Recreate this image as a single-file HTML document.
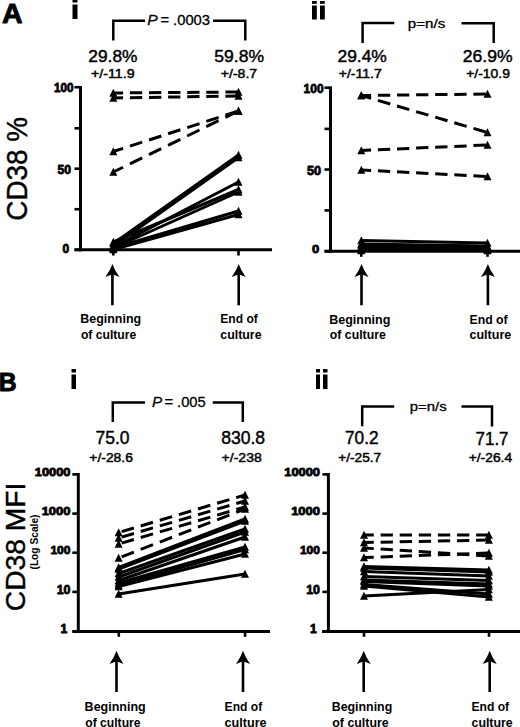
<!DOCTYPE html>
<html><head><meta charset="utf-8"><style>
html,body{margin:0;padding:0;background:#fff;}
body{width:520px;height:727px;overflow:hidden;}
svg{display:block;}
text{font-family:'Liberation Sans', sans-serif;fill:#000;}
</style></head><body>
<svg width="520" height="727" viewBox="0 0 520 727">
<rect width="520" height="727" fill="#fff"/>
<text transform="translate(2.04,23.05) scale(1.014,1)" font-size="28.12" font-weight="bold" font-style="normal" stroke="#000" stroke-width="0.9" stroke-linejoin="round">A</text>
<text transform="translate(-1.16,390.55) scale(0.944,1)" font-size="26.23" font-weight="bold" font-style="normal" stroke="#000" stroke-width="0.9" stroke-linejoin="round">B</text>
<rect x="72.50" y="-1.00" width="5.00" height="3.50"/>
<rect x="72.50" y="4.50" width="5.00" height="14.50"/>
<rect x="312.00" y="1.00" width="4.80" height="2.80"/>
<rect x="312.00" y="5.50" width="4.80" height="14.00"/>
<rect x="320.00" y="1.00" width="4.80" height="2.80"/>
<rect x="320.00" y="5.50" width="4.80" height="14.00"/>
<rect x="71.50" y="369.00" width="4.50" height="3.50"/>
<rect x="71.50" y="374.50" width="4.50" height="14.50"/>
<rect x="316.00" y="369.00" width="4.00" height="3.50"/>
<rect x="316.00" y="374.50" width="4.00" height="14.50"/>
<rect x="323.00" y="369.00" width="4.50" height="3.50"/>
<rect x="323.00" y="374.50" width="4.50" height="14.50"/>
<path d="M113.3,40.5V20.7H145" fill="none" stroke="#000" stroke-width="2.5"/>
<path d="M213,20.7H245.3V40.5" fill="none" stroke="#000" stroke-width="2.5"/>
<path d="M362.6,43V23H394.3" fill="none" stroke="#000" stroke-width="2.5"/>
<path d="M461.5,23.2H493.7V43" fill="none" stroke="#000" stroke-width="2.5"/>
<path d="M112.8,422V402.4H145" fill="none" stroke="#000" stroke-width="2.5"/>
<path d="M212.7,402.4H242.8V422" fill="none" stroke="#000" stroke-width="2.5"/>
<path d="M362.2,426.3V406.5H394.2" fill="none" stroke="#000" stroke-width="2.5"/>
<path d="M461.5,406.5H492V426.5" fill="none" stroke="#000" stroke-width="2.5"/>
<text transform="translate(147.28,24.55) scale(1.043,1)" font-size="15.07" font-weight="normal" font-style="italic" stroke="#000" stroke-width="0.3" stroke-linejoin="round">P</text>
<text transform="translate(160.41,24.90) scale(0.989,1)" font-size="14.93" font-weight="normal" font-style="normal" stroke="#000" stroke-width="0.3" stroke-linejoin="round">= .0003</text>
<text transform="translate(151.99,407.35) scale(1.001,1)" font-size="15.22" font-weight="normal" font-style="italic" stroke="#000" stroke-width="0.3" stroke-linejoin="round">P</text>
<text transform="translate(164.42,407.40) scale(0.975,1)" font-size="15.07" font-weight="normal" font-style="normal" stroke="#000" stroke-width="0.3" stroke-linejoin="round">= .005</text>
<text transform="translate(407.87,28.03) scale(1.261,1)" font-size="11.98" font-weight="normal" font-style="normal" stroke="#000" stroke-width="0.3" stroke-linejoin="round">p=n/s</text>
<text transform="translate(409.78,411.49) scale(1.222,1)" font-size="12.19" font-weight="normal" font-style="normal" stroke="#000" stroke-width="0.3" stroke-linejoin="round">p=n/s</text>
<text transform="translate(88.36,61.50) scale(1.004,1)" font-size="17.25" font-weight="normal" font-style="normal" stroke="#000" stroke-width="0.45" stroke-linejoin="round">29.8%</text>
<text transform="translate(91.01,78.35) scale(1.155,1)" font-size="12.31" font-weight="normal" font-style="normal" stroke="#000" stroke-width="0.45" stroke-linejoin="round">+/-11.9</text>
<text transform="translate(214.32,61.50) scale(1.017,1)" font-size="17.25" font-weight="normal" font-style="normal" stroke="#000" stroke-width="0.45" stroke-linejoin="round">59.8%</text>
<text transform="translate(220.82,78.35) scale(1.142,1)" font-size="12.31" font-weight="normal" font-style="normal" stroke="#000" stroke-width="0.45" stroke-linejoin="round">+/-8.7</text>
<text transform="translate(337.45,61.50) scale(1.011,1)" font-size="17.25" font-weight="normal" font-style="normal" stroke="#000" stroke-width="0.45" stroke-linejoin="round">29.4%</text>
<text transform="translate(338.72,78.35) scale(1.141,1)" font-size="12.31" font-weight="normal" font-style="normal" stroke="#000" stroke-width="0.45" stroke-linejoin="round">+/-11.7</text>
<text transform="translate(462.85,61.50) scale(1.017,1)" font-size="17.25" font-weight="normal" font-style="normal" stroke="#000" stroke-width="0.45" stroke-linejoin="round">26.9%</text>
<text transform="translate(466.23,78.35) scale(1.132,1)" font-size="12.31" font-weight="normal" font-style="normal" stroke="#000" stroke-width="0.45" stroke-linejoin="round">+/-10.9</text>
<text transform="translate(95.55,444.39) scale(0.964,1)" font-size="18.10" font-weight="normal" font-style="normal" stroke="#000" stroke-width="0.45" stroke-linejoin="round">75.0</text>
<text transform="translate(89.33,461.75) scale(1.139,1)" font-size="12.18" font-weight="normal" font-style="normal" stroke="#000" stroke-width="0.45" stroke-linejoin="round">+/-28.6</text>
<text transform="translate(221.13,444.39) scale(0.971,1)" font-size="18.10" font-weight="normal" font-style="normal" stroke="#000" stroke-width="0.45" stroke-linejoin="round">830.8</text>
<text transform="translate(221.62,461.75) scale(1.152,1)" font-size="12.18" font-weight="normal" font-style="normal" stroke="#000" stroke-width="0.45" stroke-linejoin="round">+/-238</text>
<text transform="translate(344.96,444.39) scale(0.954,1)" font-size="18.10" font-weight="normal" font-style="normal" stroke="#000" stroke-width="0.45" stroke-linejoin="round">70.2</text>
<text transform="translate(338.24,461.65) scale(1.138,1)" font-size="12.04" font-weight="normal" font-style="normal" stroke="#000" stroke-width="0.45" stroke-linejoin="round">+/-25.7</text>
<text transform="translate(475.58,444.57) scale(0.909,1)" font-size="18.62" font-weight="normal" font-style="normal" stroke="#000" stroke-width="0.45" stroke-linejoin="round">71.7</text>
<text transform="translate(468.73,461.65) scale(1.147,1)" font-size="12.04" font-weight="normal" font-style="normal" stroke="#000" stroke-width="0.45" stroke-linejoin="round">+/-26.4</text>
<text transform="translate(26.50,220.70) rotate(-90) scale(0.939,1)" font-size="29.72" font-weight="normal" stroke="#000" stroke-width="0.4" stroke-linejoin="round">CD38 %</text>
<text transform="translate(25.02,611.21) rotate(-90) scale(0.997,1)" font-size="28.31" font-weight="normal" stroke="#000" stroke-width="0.4" stroke-linejoin="round">CD38 MFI</text>
<text transform="translate(37.84,569.51) rotate(-90) scale(0.932,1)" font-size="10.96" font-weight="bold">(Log Scale)</text>
<text transform="translate(53.94,92.28) scale(0.982,1)" font-size="11.97" font-weight="bold" font-style="normal" stroke="#000" stroke-width="0.8" stroke-linejoin="round">100</text>
<text transform="translate(57.53,174.48) scale(0.997,1)" font-size="12.25" font-weight="bold" font-style="normal" stroke="#000" stroke-width="0.8" stroke-linejoin="round">50</text>
<text transform="translate(62.42,252.98) scale(0.979,1)" font-size="12.25" font-weight="bold" font-style="normal" stroke="#000" stroke-width="0.8" stroke-linejoin="round">0</text>
<text transform="translate(303.62,92.98) scale(0.975,1)" font-size="12.25" font-weight="bold" font-style="normal" stroke="#000" stroke-width="0.8" stroke-linejoin="round">100</text>
<text transform="translate(307.02,175.47) scale(0.980,1)" font-size="12.96" font-weight="bold" font-style="normal" stroke="#000" stroke-width="0.8" stroke-linejoin="round">50</text>
<text transform="translate(311.88,253.48) scale(1.130,1)" font-size="11.55" font-weight="bold" font-style="normal" stroke="#000" stroke-width="0.8" stroke-linejoin="round">0</text>
<text transform="translate(34.76,475.69) scale(1.201,1)" font-size="10.70" font-weight="bold" font-style="normal" stroke="#000" stroke-width="0.8" stroke-linejoin="round">10000</text>
<text transform="translate(41.66,514.89) scale(1.166,1)" font-size="11.13" font-weight="bold" font-style="normal" stroke="#000" stroke-width="0.8" stroke-linejoin="round">1000</text>
<text transform="translate(50.42,553.69) scale(1.093,1)" font-size="10.99" font-weight="bold" font-style="normal" stroke="#000" stroke-width="0.8" stroke-linejoin="round">100</text>
<text transform="translate(56.69,593.98) scale(1.015,1)" font-size="12.25" font-weight="bold" font-style="normal" stroke="#000" stroke-width="0.8" stroke-linejoin="round">10</text>
<text transform="translate(60.60,633.10) scale(1.031,1)" font-size="11.88" font-weight="bold" font-style="normal" stroke="#000" stroke-width="0.8" stroke-linejoin="round">1</text>
<text transform="translate(284.26,475.69) scale(1.201,1)" font-size="10.70" font-weight="bold" font-style="normal" stroke="#000" stroke-width="0.8" stroke-linejoin="round">10000</text>
<text transform="translate(291.16,514.89) scale(1.166,1)" font-size="11.13" font-weight="bold" font-style="normal" stroke="#000" stroke-width="0.8" stroke-linejoin="round">1000</text>
<text transform="translate(299.92,553.69) scale(1.093,1)" font-size="10.99" font-weight="bold" font-style="normal" stroke="#000" stroke-width="0.8" stroke-linejoin="round">100</text>
<text transform="translate(306.19,593.98) scale(1.015,1)" font-size="12.25" font-weight="bold" font-style="normal" stroke="#000" stroke-width="0.8" stroke-linejoin="round">10</text>
<text transform="translate(310.10,633.10) scale(1.031,1)" font-size="11.88" font-weight="bold" font-style="normal" stroke="#000" stroke-width="0.8" stroke-linejoin="round">1</text>
<path d="M80.5,86.0V251.3" fill="none" stroke="#000" stroke-width="3.0"/>
<path d="M74.5,87.2H80.5" fill="none" stroke="#000" stroke-width="2.6"/>
<path d="M74.5,128.3H80.5" fill="none" stroke="#000" stroke-width="2.6"/>
<path d="M74.5,168.7H80.5" fill="none" stroke="#000" stroke-width="2.6"/>
<path d="M74.5,209.2H80.5" fill="none" stroke="#000" stroke-width="2.6"/>
<path d="M74.5,249.8H80.5" fill="none" stroke="#000" stroke-width="2.6"/>
<path d="M74.5,249.8H272.0" fill="none" stroke="#000" stroke-width="3.0"/>
<path d="M113.3,249.8V255.5" fill="none" stroke="#000" stroke-width="2.6"/>
<path d="M238.5,249.8V255.5" fill="none" stroke="#000" stroke-width="2.6"/>
<path d="M330.5,86.5V252.5" fill="none" stroke="#000" stroke-width="3.0"/>
<path d="M324.5,87.7H330.5" fill="none" stroke="#000" stroke-width="2.6"/>
<path d="M324.5,128.9H330.5" fill="none" stroke="#000" stroke-width="2.6"/>
<path d="M324.5,169.5H330.5" fill="none" stroke="#000" stroke-width="2.6"/>
<path d="M324.5,210.4H330.5" fill="none" stroke="#000" stroke-width="2.6"/>
<path d="M324.5,251.2H330.5" fill="none" stroke="#000" stroke-width="2.6"/>
<path d="M324.5,251.2H521.0" fill="none" stroke="#000" stroke-width="3.0"/>
<path d="M361.3,251.2V256.8" fill="none" stroke="#000" stroke-width="2.6"/>
<path d="M487.5,251.2V256.8" fill="none" stroke="#000" stroke-width="2.6"/>
<path d="M78.3,473.0V632.9" fill="none" stroke="#000" stroke-width="3.0"/>
<path d="M72.3,474.4H78.3" fill="none" stroke="#000" stroke-width="2.6"/>
<path d="M72.3,513.6H78.3" fill="none" stroke="#000" stroke-width="2.6"/>
<path d="M72.3,552.7H78.3" fill="none" stroke="#000" stroke-width="2.6"/>
<path d="M72.3,591.9H78.3" fill="none" stroke="#000" stroke-width="2.6"/>
<path d="M72.3,631.4H78.3" fill="none" stroke="#000" stroke-width="2.6"/>
<path d="M72.5,631.4H270.0" fill="none" stroke="#000" stroke-width="3.0"/>
<path d="M118.8,631.4V636.8" fill="none" stroke="#000" stroke-width="2.6"/>
<path d="M245.1,631.4V636.8" fill="none" stroke="#000" stroke-width="2.6"/>
<path d="M328.4,473.0V632.9" fill="none" stroke="#000" stroke-width="3.0"/>
<path d="M322.4,474.4H328.4" fill="none" stroke="#000" stroke-width="2.6"/>
<path d="M322.4,513.6H328.4" fill="none" stroke="#000" stroke-width="2.6"/>
<path d="M322.4,552.7H328.4" fill="none" stroke="#000" stroke-width="2.6"/>
<path d="M322.4,591.9H328.4" fill="none" stroke="#000" stroke-width="2.6"/>
<path d="M322.4,631.4H328.4" fill="none" stroke="#000" stroke-width="2.6"/>
<path d="M322.0,631.4H521.0" fill="none" stroke="#000" stroke-width="3.0"/>
<path d="M364.0,631.4V636.8" fill="none" stroke="#000" stroke-width="2.6"/>
<path d="M489.0,631.4V636.8" fill="none" stroke="#000" stroke-width="2.6"/>
<path d="M112.40,264.00 Q114.40,270.00 119.40,277.00 L113.70,274.70 L113.70,305.20 L111.10,305.20 L111.10,274.70 L105.40,277.00 Q110.40,270.00 112.40,264.00Z"/>
<path d="M238.70,264.00 Q240.70,270.00 245.70,277.00 L240.00,274.70 L240.00,305.20 L237.40,305.20 L237.40,274.70 L231.70,277.00 Q236.70,270.00 238.70,264.00Z"/>
<path d="M361.50,264.00 Q363.50,270.00 368.50,277.00 L362.80,274.70 L362.80,305.20 L360.20,305.20 L360.20,274.70 L354.50,277.00 Q359.50,270.00 361.50,264.00Z"/>
<path d="M487.90,264.00 Q489.90,270.00 494.90,277.00 L489.20,274.70 L489.20,305.20 L486.60,305.20 L486.60,274.70 L480.90,277.00 Q485.90,270.00 487.90,264.00Z"/>
<path d="M116.50,650.70 Q118.50,656.70 123.50,664.00 L117.80,661.70 L117.80,692.00 L115.20,692.00 L115.20,661.70 L109.50,664.00 Q114.50,656.70 116.50,650.70Z"/>
<path d="M243.00,650.70 Q245.00,656.70 250.00,664.00 L244.30,661.70 L244.30,692.00 L241.70,692.00 L241.70,661.70 L236.00,664.00 Q241.00,656.70 243.00,650.70Z"/>
<path d="M363.70,650.70 Q365.70,656.70 370.70,664.00 L365.00,661.70 L365.00,692.00 L362.40,692.00 L362.40,661.70 L356.70,664.00 Q361.70,656.70 363.70,650.70Z"/>
<path d="M489.70,650.70 Q491.70,656.70 496.70,664.00 L491.00,661.70 L491.00,692.00 L488.40,692.00 L488.40,661.70 L482.70,664.00 Q487.70,656.70 489.70,650.70Z"/>
<text transform="translate(80.29,323.40) scale(0.958,1)" font-size="13.00" font-weight="bold">Beginning</text>
<text transform="translate(80.91,339.00) scale(0.936,1)" font-size="13.00" font-weight="bold">of culture</text>
<text transform="translate(220.32,323.40) scale(0.927,1)" font-size="13.00" font-weight="bold">End of</text>
<text transform="translate(220.30,339.00) scale(0.953,1)" font-size="13.00" font-weight="bold">culture</text>
<text transform="translate(329.19,323.50) scale(0.964,1)" font-size="13.00" font-weight="bold">Beginning</text>
<text transform="translate(329.81,339.30) scale(0.946,1)" font-size="13.00" font-weight="bold">of culture</text>
<text transform="translate(469.50,323.50) scale(0.945,1)" font-size="13.00" font-weight="bold">End of</text>
<text transform="translate(469.50,339.30) scale(0.963,1)" font-size="13.00" font-weight="bold">culture</text>
<text transform="translate(84.59,710.80) scale(0.964,1)" font-size="13.00" font-weight="bold">Beginning</text>
<text transform="translate(85.21,726.60) scale(0.936,1)" font-size="13.00" font-weight="bold">of culture</text>
<text transform="translate(224.61,710.80) scale(0.932,1)" font-size="13.00" font-weight="bold">End of</text>
<text transform="translate(224.60,726.60) scale(0.970,1)" font-size="13.00" font-weight="bold">culture</text>
<text transform="translate(331.69,710.80) scale(0.954,1)" font-size="13.00" font-weight="bold">Beginning</text>
<text transform="translate(332.30,726.60) scale(0.953,1)" font-size="13.00" font-weight="bold">of culture</text>
<text transform="translate(471.51,710.80) scale(0.932,1)" font-size="13.00" font-weight="bold">End of</text>
<text transform="translate(471.51,726.60) scale(0.951,1)" font-size="13.00" font-weight="bold">culture</text>
<line x1="113.30" y1="243.50" x2="238.50" y2="155.00" stroke="#000" stroke-width="3.0"/>
<line x1="113.30" y1="246.00" x2="238.50" y2="157.50" stroke="#000" stroke-width="3.0"/>
<line x1="113.30" y1="247.00" x2="238.50" y2="182.00" stroke="#000" stroke-width="3.0"/>
<line x1="113.30" y1="242.00" x2="238.50" y2="189.50" stroke="#000" stroke-width="3.0"/>
<line x1="113.30" y1="248.00" x2="238.50" y2="192.00" stroke="#000" stroke-width="3.0"/>
<line x1="113.30" y1="248.00" x2="238.50" y2="211.00" stroke="#000" stroke-width="3.0"/>
<line x1="113.30" y1="249.50" x2="238.50" y2="214.50" stroke="#000" stroke-width="3.0"/>
<line x1="113.30" y1="93.00" x2="238.50" y2="92.00" stroke="#000" stroke-width="3.0" stroke-dasharray="12.30 6.80" stroke-dashoffset="2.50"/>
<line x1="113.30" y1="98.00" x2="238.50" y2="96.00" stroke="#000" stroke-width="3.0" stroke-dasharray="12.30 6.80" stroke-dashoffset="2.50"/>
<line x1="113.30" y1="151.50" x2="238.50" y2="111.00" stroke="#000" stroke-width="3.0" stroke-dasharray="12.93 7.15" stroke-dashoffset="2.63"/>
<line x1="113.30" y1="172.00" x2="238.50" y2="111.00" stroke="#000" stroke-width="3.0" stroke-dasharray="13.68 7.56" stroke-dashoffset="2.78"/>
<path d="M113.30,239.25L117.30,247.25L109.30,247.25Z"/>
<path d="M238.50,150.75L242.50,158.75L234.50,158.75Z"/>
<path d="M113.30,241.75L117.30,249.75L109.30,249.75Z"/>
<path d="M238.50,153.25L242.50,161.25L234.50,161.25Z"/>
<path d="M113.30,242.75L117.30,250.75L109.30,250.75Z"/>
<path d="M238.50,177.75L242.50,185.75L234.50,185.75Z"/>
<path d="M113.30,237.75L117.30,245.75L109.30,245.75Z"/>
<path d="M238.50,185.25L242.50,193.25L234.50,193.25Z"/>
<path d="M113.30,243.75L117.30,251.75L109.30,251.75Z"/>
<path d="M238.50,187.75L242.50,195.75L234.50,195.75Z"/>
<path d="M113.30,243.75L117.30,251.75L109.30,251.75Z"/>
<path d="M238.50,206.75L242.50,214.75L234.50,214.75Z"/>
<path d="M113.30,245.25L117.30,253.25L109.30,253.25Z"/>
<path d="M238.50,210.25L242.50,218.25L234.50,218.25Z"/>
<path d="M113.30,88.75L117.30,96.75L109.30,96.75Z"/>
<path d="M238.50,87.75L242.50,95.75L234.50,95.75Z"/>
<path d="M113.30,93.75L117.30,101.75L109.30,101.75Z"/>
<path d="M238.50,91.75L242.50,99.75L234.50,99.75Z"/>
<path d="M113.30,147.25L117.30,155.25L109.30,155.25Z"/>
<path d="M238.50,106.75L242.50,114.75L234.50,114.75Z"/>
<path d="M113.30,167.75L117.30,175.75L109.30,175.75Z"/>
<path d="M238.50,106.75L242.50,114.75L234.50,114.75Z"/>
<line x1="361.30" y1="240.50" x2="487.50" y2="243.00" stroke="#000" stroke-width="3.0"/>
<line x1="361.30" y1="244.00" x2="487.50" y2="246.00" stroke="#000" stroke-width="3.0"/>
<line x1="361.30" y1="246.00" x2="487.50" y2="248.00" stroke="#000" stroke-width="3.0"/>
<line x1="361.30" y1="248.00" x2="487.50" y2="249.50" stroke="#000" stroke-width="3.0"/>
<line x1="361.30" y1="249.50" x2="487.50" y2="250.00" stroke="#000" stroke-width="3.0"/>
<line x1="361.30" y1="250.50" x2="487.50" y2="250.50" stroke="#000" stroke-width="3.0"/>
<line x1="361.30" y1="244.50" x2="487.50" y2="249.00" stroke="#000" stroke-width="3.0"/>
<line x1="361.30" y1="95.50" x2="487.50" y2="94.00" stroke="#000" stroke-width="3.0" stroke-dasharray="12.30 6.80" stroke-dashoffset="2.50"/>
<line x1="361.30" y1="95.50" x2="487.50" y2="132.50" stroke="#000" stroke-width="3.0" stroke-dasharray="12.82 7.09" stroke-dashoffset="2.61"/>
<line x1="361.30" y1="150.50" x2="487.50" y2="145.00" stroke="#000" stroke-width="3.0" stroke-dasharray="12.31 6.81" stroke-dashoffset="2.50"/>
<line x1="361.30" y1="170.00" x2="487.50" y2="176.50" stroke="#000" stroke-width="3.0" stroke-dasharray="12.32 6.81" stroke-dashoffset="2.50"/>
<path d="M361.30,236.25L365.30,244.25L357.30,244.25Z"/>
<path d="M487.50,238.75L491.50,246.75L483.50,246.75Z"/>
<path d="M361.30,239.75L365.30,247.75L357.30,247.75Z"/>
<path d="M487.50,241.75L491.50,249.75L483.50,249.75Z"/>
<path d="M361.30,241.75L365.30,249.75L357.30,249.75Z"/>
<path d="M487.50,243.75L491.50,251.75L483.50,251.75Z"/>
<path d="M361.30,243.75L365.30,251.75L357.30,251.75Z"/>
<path d="M487.50,245.25L491.50,253.25L483.50,253.25Z"/>
<path d="M361.30,245.25L365.30,253.25L357.30,253.25Z"/>
<path d="M487.50,245.75L491.50,253.75L483.50,253.75Z"/>
<path d="M361.30,246.25L365.30,254.25L357.30,254.25Z"/>
<path d="M487.50,246.25L491.50,254.25L483.50,254.25Z"/>
<path d="M361.30,240.25L365.30,248.25L357.30,248.25Z"/>
<path d="M487.50,244.75L491.50,252.75L483.50,252.75Z"/>
<path d="M361.30,91.25L365.30,99.25L357.30,99.25Z"/>
<path d="M487.50,89.75L491.50,97.75L483.50,97.75Z"/>
<path d="M361.30,91.25L365.30,99.25L357.30,99.25Z"/>
<path d="M487.50,128.25L491.50,136.25L483.50,136.25Z"/>
<path d="M361.30,146.25L365.30,154.25L357.30,154.25Z"/>
<path d="M487.50,140.75L491.50,148.75L483.50,148.75Z"/>
<path d="M361.30,165.75L365.30,173.75L357.30,173.75Z"/>
<path d="M487.50,172.25L491.50,180.25L483.50,180.25Z"/>
<line x1="118.60" y1="567.50" x2="245.00" y2="519.00" stroke="#000" stroke-width="3.0"/>
<line x1="118.60" y1="569.00" x2="245.00" y2="521.00" stroke="#000" stroke-width="3.0"/>
<line x1="118.60" y1="573.50" x2="245.00" y2="529.00" stroke="#000" stroke-width="3.0"/>
<line x1="118.60" y1="577.00" x2="245.00" y2="532.00" stroke="#000" stroke-width="3.0"/>
<line x1="118.60" y1="580.50" x2="245.00" y2="537.00" stroke="#000" stroke-width="3.0"/>
<line x1="118.60" y1="583.00" x2="245.00" y2="547.00" stroke="#000" stroke-width="3.0"/>
<line x1="118.60" y1="585.00" x2="245.00" y2="549.50" stroke="#000" stroke-width="3.0"/>
<line x1="118.60" y1="586.50" x2="245.00" y2="554.00" stroke="#000" stroke-width="3.0"/>
<line x1="118.60" y1="594.00" x2="245.00" y2="574.00" stroke="#000" stroke-width="3.0"/>
<line x1="118.60" y1="532.50" x2="245.00" y2="495.00" stroke="#000" stroke-width="3.0" stroke-dasharray="12.83 7.09" stroke-dashoffset="-3.13"/>
<line x1="118.60" y1="538.00" x2="245.00" y2="501.00" stroke="#000" stroke-width="3.0" stroke-dasharray="12.82 7.09" stroke-dashoffset="-3.13"/>
<line x1="118.60" y1="544.00" x2="245.00" y2="507.00" stroke="#000" stroke-width="3.0" stroke-dasharray="12.82 7.09" stroke-dashoffset="-3.13"/>
<line x1="118.60" y1="558.00" x2="245.00" y2="509.00" stroke="#000" stroke-width="3.0" stroke-dasharray="13.19 7.29" stroke-dashoffset="-3.22"/>
<path d="M118.60,563.25L122.60,571.25L114.60,571.25Z"/>
<path d="M245.00,514.75L249.00,522.75L241.00,522.75Z"/>
<path d="M118.60,564.75L122.60,572.75L114.60,572.75Z"/>
<path d="M245.00,516.75L249.00,524.75L241.00,524.75Z"/>
<path d="M118.60,569.25L122.60,577.25L114.60,577.25Z"/>
<path d="M245.00,524.75L249.00,532.75L241.00,532.75Z"/>
<path d="M118.60,572.75L122.60,580.75L114.60,580.75Z"/>
<path d="M245.00,527.75L249.00,535.75L241.00,535.75Z"/>
<path d="M118.60,576.25L122.60,584.25L114.60,584.25Z"/>
<path d="M245.00,532.75L249.00,540.75L241.00,540.75Z"/>
<path d="M118.60,578.75L122.60,586.75L114.60,586.75Z"/>
<path d="M245.00,542.75L249.00,550.75L241.00,550.75Z"/>
<path d="M118.60,580.75L122.60,588.75L114.60,588.75Z"/>
<path d="M245.00,545.25L249.00,553.25L241.00,553.25Z"/>
<path d="M118.60,582.25L122.60,590.25L114.60,590.25Z"/>
<path d="M245.00,549.75L249.00,557.75L241.00,557.75Z"/>
<path d="M118.60,589.75L122.60,597.75L114.60,597.75Z"/>
<path d="M245.00,569.75L249.00,577.75L241.00,577.75Z"/>
<path d="M118.60,528.25L122.60,536.25L114.60,536.25Z"/>
<path d="M245.00,490.75L249.00,498.75L241.00,498.75Z"/>
<path d="M118.60,533.75L122.60,541.75L114.60,541.75Z"/>
<path d="M245.00,496.75L249.00,504.75L241.00,504.75Z"/>
<path d="M118.60,539.75L122.60,547.75L114.60,547.75Z"/>
<path d="M245.00,502.75L249.00,510.75L241.00,510.75Z"/>
<path d="M118.60,553.75L122.60,561.75L114.60,561.75Z"/>
<path d="M245.00,504.75L249.00,512.75L241.00,512.75Z"/>
<line x1="364.00" y1="566.50" x2="488.90" y2="570.00" stroke="#000" stroke-width="3.0"/>
<line x1="364.00" y1="568.00" x2="488.90" y2="572.00" stroke="#000" stroke-width="3.0"/>
<line x1="364.00" y1="571.50" x2="488.90" y2="576.00" stroke="#000" stroke-width="3.0"/>
<line x1="364.00" y1="576.50" x2="488.90" y2="580.50" stroke="#000" stroke-width="3.0"/>
<line x1="364.00" y1="580.00" x2="488.90" y2="584.00" stroke="#000" stroke-width="3.0"/>
<line x1="364.00" y1="581.50" x2="488.90" y2="586.00" stroke="#000" stroke-width="3.0"/>
<line x1="364.00" y1="584.50" x2="488.90" y2="594.00" stroke="#000" stroke-width="3.0"/>
<line x1="364.00" y1="586.00" x2="488.90" y2="597.00" stroke="#000" stroke-width="3.0"/>
<line x1="364.00" y1="596.00" x2="488.90" y2="589.50" stroke="#000" stroke-width="3.0"/>
<line x1="364.00" y1="535.00" x2="488.90" y2="535.00" stroke="#000" stroke-width="3.0" stroke-dasharray="12.30 6.80" stroke-dashoffset="2.50"/>
<line x1="364.00" y1="542.50" x2="488.90" y2="540.00" stroke="#000" stroke-width="3.0" stroke-dasharray="12.30 6.80" stroke-dashoffset="2.50"/>
<line x1="364.00" y1="548.00" x2="488.90" y2="556.00" stroke="#000" stroke-width="3.0" stroke-dasharray="12.33 6.81" stroke-dashoffset="2.51"/>
<line x1="364.00" y1="557.50" x2="488.90" y2="553.00" stroke="#000" stroke-width="3.0" stroke-dasharray="12.31 6.80" stroke-dashoffset="2.50"/>
<path d="M364.00,562.25L368.00,570.25L360.00,570.25Z"/>
<path d="M488.90,565.75L492.90,573.75L484.90,573.75Z"/>
<path d="M364.00,563.75L368.00,571.75L360.00,571.75Z"/>
<path d="M488.90,567.75L492.90,575.75L484.90,575.75Z"/>
<path d="M364.00,567.25L368.00,575.25L360.00,575.25Z"/>
<path d="M488.90,571.75L492.90,579.75L484.90,579.75Z"/>
<path d="M364.00,572.25L368.00,580.25L360.00,580.25Z"/>
<path d="M488.90,576.25L492.90,584.25L484.90,584.25Z"/>
<path d="M364.00,575.75L368.00,583.75L360.00,583.75Z"/>
<path d="M488.90,579.75L492.90,587.75L484.90,587.75Z"/>
<path d="M364.00,577.25L368.00,585.25L360.00,585.25Z"/>
<path d="M488.90,581.75L492.90,589.75L484.90,589.75Z"/>
<path d="M364.00,580.25L368.00,588.25L360.00,588.25Z"/>
<path d="M488.90,589.75L492.90,597.75L484.90,597.75Z"/>
<path d="M364.00,581.75L368.00,589.75L360.00,589.75Z"/>
<path d="M488.90,592.75L492.90,600.75L484.90,600.75Z"/>
<path d="M364.00,591.75L368.00,599.75L360.00,599.75Z"/>
<path d="M488.90,585.25L492.90,593.25L484.90,593.25Z"/>
<path d="M364.00,530.75L368.00,538.75L360.00,538.75Z"/>
<path d="M488.90,530.75L492.90,538.75L484.90,538.75Z"/>
<path d="M364.00,538.25L368.00,546.25L360.00,546.25Z"/>
<path d="M488.90,535.75L492.90,543.75L484.90,543.75Z"/>
<path d="M364.00,543.75L368.00,551.75L360.00,551.75Z"/>
<path d="M488.90,551.75L492.90,559.75L484.90,559.75Z"/>
<path d="M364.00,553.25L368.00,561.25L360.00,561.25Z"/>
<path d="M488.90,548.75L492.90,556.75L484.90,556.75Z"/>
</svg>
</body></html>
